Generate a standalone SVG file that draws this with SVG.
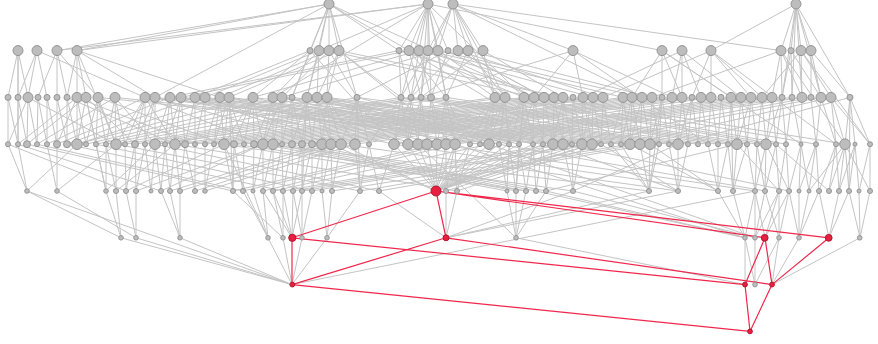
<svg xmlns="http://www.w3.org/2000/svg" width="878" height="344" viewBox="0 0 878 344">
<style>
.e{fill:none;stroke:#c4c4c4;stroke-width:1}
.re{fill:none;stroke:#f0274b;stroke-width:1.2}
.n circle{fill:#bdbdbd;stroke:#959595;stroke-width:1}
.h circle{fill:#e8203f;stroke:#b3152f;stroke-width:1}
</style>
<rect width="878" height="344" fill="#fff"/>
<g id="connectors">
<!-- level 0 to level 1 -->
<path class="e" d="M329 4 57 50.6M329 4 77 50.6M329 4 310 50.6M329 4 319 50.6M329 4 329 50.6M329 4 339 50.6M329 4 399 50.6M329 4 409 50.6M428 4 57 50.6M428 4 77 50.6M428 4 319 50.6M428 4 399 50.6M428 4 409 50.6M428 4 419 50.6M428 4 428 50.6M428 4 438 50.6M428 4 448 50.6M428 4 662 50.6M453 4 428 50.6M453 4 438 50.6M453 4 458 50.6M453 4 468 50.6M453 4 483 50.6M453 4 573 50.6M453 4 781 50.6M796 4 711 50.6M796 4 781 50.6M796 4 791 50.6M796 4 801 50.6M796 4 811 50.6"/>
<!-- level 0 to level 2 -->
<path class="e" d="M329 4 155 97.4M329 4 292 97.4M329 4 307 97.4M329 4 357 97.4M329 4 534 97.4M428 4 401 97.4M428 4 421 97.4M428 4 431 97.4M428 4 446 97.4M428 4 524 97.4M428 4 273 97.4M453 4 411 97.4M453 4 495 97.4M453 4 505 97.4M453 4 642 97.4M796 4 782 97.4M796 4 792 97.4M796 4 802 97.4M796 4 821 97.4M796 4 850 97.4"/>
<!-- level 1 to level 2 -->
<path class="e" d="M18 50.6 8 97.4M18 50.6 18 97.4M18 50.6 28 97.4M37 50.6 18 97.4M37 50.6 28 97.4M37 50.6 47 97.4M37 50.6 145 97.4M57 50.6 38 97.4M57 50.6 57 97.4M57 50.6 67 97.4M57 50.6 98 97.4M77 50.6 67 97.4M77 50.6 77 97.4M77 50.6 86 97.4M77 50.6 155 97.4M77 50.6 220 97.4M310 50.6 195 97.4M310 50.6 253 97.4M310 50.6 292 97.4M319 50.6 205 97.4M319 50.6 273 97.4M319 50.6 307 97.4M319 50.6 317 97.4M329 50.6 220 97.4M329 50.6 282 97.4M329 50.6 327 97.4M329 50.6 357 97.4M329 50.6 534 97.4M339 50.6 229 97.4M339 50.6 317 97.4M339 50.6 327 97.4M339 50.6 401 97.4M339 50.6 563 97.4M399 50.6 170 97.4M399 50.6 401 97.4M399 50.6 411 97.4M399 50.6 554 97.4M409 50.6 181 97.4M409 50.6 421 97.4M409 50.6 446 97.4M409 50.6 524 97.4M419 50.6 253 97.4M419 50.6 411 97.4M419 50.6 431 97.4M419 50.6 593 97.4M428 50.6 401 97.4M428 50.6 421 97.4M428 50.6 495 97.4M428 50.6 623 97.4M438 50.6 282 97.4M438 50.6 446 97.4M438 50.6 505 97.4M438 50.6 642 97.4M448 50.6 357 97.4M448 50.6 431 97.4M448 50.6 534 97.4M458 50.6 411 97.4M458 50.6 544 97.4M458 50.6 603 97.4M468 50.6 446 97.4M468 50.6 505 97.4M468 50.6 652 97.4M483 50.6 421 97.4M483 50.6 495 97.4M483 50.6 563 97.4M573 50.6 421 97.4M573 50.6 534 97.4M573 50.6 583 97.4M573 50.6 672 97.4M662 50.6 632 97.4M662 50.6 662 97.4M662 50.6 682 97.4M662 50.6 731 97.4M682 50.6 583 97.4M682 50.6 672 97.4M682 50.6 682 97.4M682 50.6 701 97.4M682 50.6 741 97.4M711 50.6 603 97.4M711 50.6 692 97.4M711 50.6 711 97.4M711 50.6 751 97.4M711 50.6 762 97.4M781 50.6 652 97.4M781 50.6 772 97.4M781 50.6 782 97.4M781 50.6 802 97.4M791 50.6 782 97.4M791 50.6 792 97.4M791 50.6 821 97.4M801 50.6 762 97.4M801 50.6 802 97.4M801 50.6 831 97.4M811 50.6 811 97.4M811 50.6 821 97.4M811 50.6 850 97.4"/>
<!-- level 1 to level 3 -->
<path class="e" d="M18 50.6 18 144.2M77 50.6 116 144.2M310 50.6 394 144.2M339 50.6 455 144.2M409 50.6 563 144.2M458 50.6 630 144.2M573 50.6 708 144.2M662 50.6 801 144.2M711 50.6 836 144.2M781 50.6 845 144.2M801 50.6 870 144.2"/>
<!-- level 2 to level 3 -->
<path class="e" d="M8 97.4 8 144.2M28 97.4 8 144.2M8 97.4 18 144.2M18 97.4 18 144.2M77 97.4 18 144.2M18 97.4 27 144.2M28 97.4 27 144.2M86 97.4 27 144.2M28 97.4 37 144.2M38 97.4 37 144.2M115 97.4 37 144.2M38 97.4 47 144.2M47 97.4 47 144.2M145 97.4 47 144.2M47 97.4 57 144.2M57 97.4 57 144.2M77 97.4 57 144.2M170 97.4 57 144.2M57 97.4 67 144.2M67 97.4 67 144.2M195 97.4 67 144.2M67 97.4 77 144.2M77 97.4 77 144.2M86 97.4 77 144.2M220 97.4 77 144.2M253 97.4 77 144.2M77 97.4 86 144.2M98 97.4 86 144.2M282 97.4 86 144.2M86 97.4 96 144.2M98 97.4 96 144.2M307 97.4 96 144.2M98 97.4 106 144.2M115 97.4 106 144.2M327 97.4 106 144.2M115 97.4 116 144.2M98 97.4 116 144.2M145 97.4 116 144.2M357 97.4 116 144.2M28 97.4 116 144.2M115 97.4 125 144.2M145 97.4 125 144.2M401 97.4 125 144.2M145 97.4 135 144.2M155 97.4 135 144.2M86 97.4 135 144.2M411 97.4 135 144.2M145 97.4 145 144.2M155 97.4 145 144.2M421 97.4 145 144.2M155 97.4 155 144.2M170 97.4 155 144.2M115 97.4 155 144.2M431 97.4 155 144.2M495 97.4 155 144.2M170 97.4 165 144.2M181 97.4 165 144.2M446 97.4 165 144.2M170 97.4 175 144.2M181 97.4 175 144.2M145 97.4 175 144.2M505 97.4 175 144.2M67 97.4 175 144.2M181 97.4 185 144.2M195 97.4 185 144.2M524 97.4 185 144.2M195 97.4 195 144.2M205 97.4 195 144.2M534 97.4 195 144.2M77 97.4 195 144.2M205 97.4 205 144.2M220 97.4 205 144.2M544 97.4 205 144.2M220 97.4 214 144.2M229 97.4 214 144.2M554 97.4 214 144.2M220 97.4 224 144.2M229 97.4 224 144.2M253 97.4 224 144.2M563 97.4 224 144.2M98 97.4 224 144.2M229 97.4 234 144.2M253 97.4 234 144.2M573 97.4 234 144.2M253 97.4 244 144.2M229 97.4 244 144.2M583 97.4 244 144.2M253 97.4 254 144.2M273 97.4 254 144.2M593 97.4 254 144.2M253 97.4 263 144.2M273 97.4 263 144.2M282 97.4 263 144.2M603 97.4 263 144.2M145 97.4 263 144.2M273 97.4 273 144.2M282 97.4 273 144.2M623 97.4 273 144.2M282 97.4 282 144.2M292 97.4 282 144.2M632 97.4 282 144.2M292 97.4 292 144.2M307 97.4 292 144.2M642 97.4 292 144.2M307 97.4 302 144.2M292 97.4 302 144.2M652 97.4 302 144.2M307 97.4 312 144.2M317 97.4 312 144.2M662 97.4 312 144.2M317 97.4 322 144.2M327 97.4 322 144.2M672 97.4 322 144.2M155 97.4 322 144.2M327 97.4 331 144.2M317 97.4 331 144.2M682 97.4 331 144.2M195 97.4 331 144.2M327 97.4 341 144.2M357 97.4 341 144.2M692 97.4 341 144.2M205 97.4 341 144.2M357 97.4 355 144.2M327 97.4 355 144.2M701 97.4 355 144.2M357 97.4 369 144.2M401 97.4 369 144.2M401 97.4 394 144.2M411 97.4 394 144.2M711 97.4 394 144.2M170 97.4 394 144.2M401 97.4 408 144.2M411 97.4 408 144.2M421 97.4 408 144.2M731 97.4 408 144.2M220 97.4 408 144.2M411 97.4 418 144.2M421 97.4 418 144.2M741 97.4 418 144.2M229 97.4 418 144.2M421 97.4 427 144.2M431 97.4 427 144.2M751 97.4 427 144.2M431 97.4 437 144.2M446 97.4 437 144.2M762 97.4 437 144.2M253 97.4 437 144.2M446 97.4 446 144.2M431 97.4 446 144.2M772 97.4 446 144.2M446 97.4 455 144.2M495 97.4 455 144.2M782 97.4 455 144.2M273 97.4 455 144.2M446 97.4 470 144.2M495 97.4 470 144.2M792 97.4 470 144.2M495 97.4 480 144.2M505 97.4 480 144.2M181 97.4 480 144.2M495 97.4 489 144.2M505 97.4 489 144.2M524 97.4 489 144.2M802 97.4 489 144.2M282 97.4 489 144.2M505 97.4 499 144.2M524 97.4 499 144.2M307 97.4 499 144.2M505 97.4 509 144.2M524 97.4 509 144.2M317 97.4 509 144.2M524 97.4 519 144.2M534 97.4 519 144.2M327 97.4 519 144.2M534 97.4 533 144.2M524 97.4 533 144.2M357 97.4 533 144.2M544 97.4 543 144.2M534 97.4 543 144.2M98 97.4 543 144.2M544 97.4 553 144.2M554 97.4 553 144.2M563 97.4 553 144.2M115 97.4 553 144.2M811 97.4 553 144.2M563 97.4 563 144.2M554 97.4 563 144.2M145 97.4 563 144.2M573 97.4 572 144.2M563 97.4 572 144.2M155 97.4 572 144.2M583 97.4 582 144.2M573 97.4 582 144.2M593 97.4 582 144.2M170 97.4 582 144.2M821 97.4 582 144.2M593 97.4 592 144.2M583 97.4 592 144.2M181 97.4 592 144.2M603 97.4 601 144.2M593 97.4 601 144.2M195 97.4 601 144.2M603 97.4 611 144.2M623 97.4 611 144.2M205 97.4 611 144.2M623 97.4 621 144.2M632 97.4 621 144.2M220 97.4 621 144.2M632 97.4 630 144.2M623 97.4 630 144.2M642 97.4 630 144.2M229 97.4 630 144.2M831 97.4 630 144.2M642 97.4 640 144.2M632 97.4 640 144.2M253 97.4 640 144.2M652 97.4 650 144.2M642 97.4 650 144.2M662 97.4 650 144.2M273 97.4 650 144.2M662 97.4 659 144.2M652 97.4 659 144.2M282 97.4 659 144.2M672 97.4 669 144.2M662 97.4 669 144.2M292 97.4 669 144.2M682 97.4 678 144.2M672 97.4 678 144.2M692 97.4 678 144.2M307 97.4 678 144.2M850 97.4 678 144.2M692 97.4 688 144.2M682 97.4 688 144.2M317 97.4 688 144.2M701 97.4 698 144.2M692 97.4 698 144.2M327 97.4 698 144.2M711 97.4 708 144.2M701 97.4 708 144.2M357 97.4 708 144.2M721 97.4 718 144.2M711 97.4 718 144.2M401 97.4 718 144.2M731 97.4 728 144.2M721 97.4 728 144.2M411 97.4 728 144.2M741 97.4 737 144.2M731 97.4 737 144.2M751 97.4 737 144.2M421 97.4 737 144.2M751 97.4 747 144.2M741 97.4 747 144.2M431 97.4 747 144.2M762 97.4 757 144.2M751 97.4 757 144.2M446 97.4 757 144.2M772 97.4 766 144.2M762 97.4 766 144.2M782 97.4 766 144.2M495 97.4 766 144.2M782 97.4 776 144.2M772 97.4 776 144.2M505 97.4 776 144.2M792 97.4 786 144.2M782 97.4 786 144.2M524 97.4 786 144.2M802 97.4 801 144.2M792 97.4 801 144.2M811 97.4 816 144.2M821 97.4 816 144.2M544 97.4 816 144.2M831 97.4 836 144.2M821 97.4 836 144.2M850 97.4 845 144.2M831 97.4 845 144.2M554 97.4 845 144.2M850 97.4 855 144.2M850 97.4 870 144.2M831 97.4 870 144.2"/>
<!-- level 2 to level 4 -->
<path class="e" d="M86 97.4 106 191M229 97.4 233 191M307 97.4 302 191M357 97.4 360 191M524 97.4 516 191M662 97.4 649 191M731 97.4 733 191M850 97.4 849 191"/>
<!-- level 3 to level 4 -->
<path class="e" d="M8 144.2 27 191M18 144.2 27 191M77 144.2 27 191M47 144.2 57 191M57 144.2 57 191M116 144.2 57 191M96 144.2 106 191M106 144.2 106 191M155 144.2 106 191M116 144.2 116 191M106 144.2 116 191M175 144.2 116 191M125 144.2 126 191M135 144.2 126 191M224 144.2 126 191M8 144.2 126 191M135 144.2 136 191M145 144.2 136 191M263 144.2 136 191M145 144.2 151 191M155 144.2 151 191M155 144.2 161 191M165 144.2 161 191M263 144.2 161 191M18 144.2 161 191M165 144.2 170 191M175 144.2 170 191M322 144.2 170 191M175 144.2 180 191M185 144.2 180 191M331 144.2 180 191M195 144.2 195 191M185 144.2 195 191M341 144.2 195 191M205 144.2 205 191M214 144.2 205 191M355 144.2 205 191M224 144.2 233 191M234 144.2 233 191M437 144.2 233 191M27 144.2 233 191M244 144.2 243 191M234 144.2 243 191M446 144.2 243 191M37 144.2 243 191M254 144.2 253 191M263 144.2 253 191M263 144.2 263 191M273 144.2 263 191M455 144.2 263 191M273 144.2 273 191M282 144.2 273 191M489 144.2 273 191M282 144.2 283 191M292 144.2 283 191M553 144.2 283 191M67 144.2 283 191M292 144.2 293 191M302 144.2 293 191M563 144.2 293 191M302 144.2 302 191M312 144.2 302 191M582 144.2 302 191M312 144.2 312 191M322 144.2 312 191M592 144.2 312 191M96 144.2 312 191M322 144.2 322 191M331 144.2 322 191M331 144.2 332 191M341 144.2 332 191M630 144.2 332 191M355 144.2 360 191M369 144.2 360 191M640 144.2 360 191M369 144.2 379 191M394 144.2 379 191M650 144.2 379 191M331 144.2 436 191M341 144.2 436 191M394 144.2 436 191M408 144.2 436 191M418 144.2 436 191M427 144.2 436 191M437 144.2 436 191M446 144.2 436 191M455 144.2 436 191M470 144.2 436 191M480 144.2 436 191M489 144.2 436 191M499 144.2 436 191M509 144.2 436 191M519 144.2 436 191M533 144.2 436 191M543 144.2 436 191M553 144.2 436 191M563 144.2 436 191M582 144.2 436 191M592 144.2 436 191M446 144.2 446 191M455 144.2 446 191M592 144.2 446 191M455 144.2 457 191M470 144.2 457 191M601 144.2 457 191M499 144.2 507 191M509 144.2 507 191M263 144.2 507 191M509 144.2 516 191M519 144.2 516 191M273 144.2 516 191M519 144.2 526 191M533 144.2 526 191M282 144.2 526 191M533 144.2 536 191M543 144.2 536 191M292 144.2 536 191M543 144.2 546 191M553 144.2 546 191M302 144.2 546 191M572 144.2 573 191M563 144.2 573 191M582 144.2 573 191M234 144.2 573 191M611 144.2 649 191M621 144.2 649 191M640 144.2 649 191M650 144.2 649 191M659 144.2 649 191M553 144.2 678 191M601 144.2 678 191M669 144.2 678 191M678 144.2 678 191M688 144.2 678 191M630 144.2 718 191M650 144.2 718 191M708 144.2 718 191M718 144.2 718 191M728 144.2 718 191M728 144.2 733 191M737 144.2 733 191M747 144.2 733 191M747 144.2 755 191M757 144.2 755 191M766 144.2 755 191M757 144.2 765 191M766 144.2 765 191M776 144.2 765 191M776 144.2 779 191M786 144.2 779 191M737 144.2 779 191M786 144.2 789 191M801 144.2 789 191M766 144.2 789 191M801 144.2 799 191M816 144.2 799 191M801 144.2 809 191M816 144.2 809 191M845 144.2 809 191M816 144.2 819 191M836 144.2 819 191M836 144.2 829 191M845 144.2 829 191M776 144.2 829 191M836 144.2 839 191M845 144.2 839 191M855 144.2 839 191M845 144.2 849 191M855 144.2 849 191M855 144.2 859 191M870 144.2 859 191M870 144.2 870 191M845 144.2 870 191M175 144.2 457 191M224 144.2 526 191M263 144.2 649 191M341 144.2 678 191M394 144.2 718 191M437 144.2 755 191M499 144.2 765 191M563 144.2 789 191M155 144.2 379 191M116 144.2 360 191M678 144.2 573 191M737 144.2 546 191"/>
<!-- level 3 to level 5 -->
<path class="e" d="M455 144.2 745 237.8M489 144.2 755 237.8M418 144.2 516 237.8M224 144.2 268 237.8"/>
<!-- level 4 to level 5 -->
<path class="e" d="M106 191 121 237.8M116 191 121 237.8M27 191 121 237.8M126 191 136 237.8M136 191 136 237.8M57 191 136 237.8M170 191 180 237.8M180 191 180 237.8M161 191 180 237.8M253 191 268 237.8M263 191 268 237.8M243 191 268 237.8M273 191 283 237.8M283 191 283 237.8M233 191 283 237.8M263 191 292 237.8M273 191 292 237.8M283 191 292 237.8M293 191 292 237.8M302 191 292 237.8M302 191 302 237.8M312 191 302 237.8M293 191 302 237.8M322 191 327 237.8M332 191 327 237.8M360 191 327 237.8M446 191 446 237.8M457 191 446 237.8M379 191 446 237.8M573 191 446 237.8M649 191 446 237.8M678 191 446 237.8M507 191 516 237.8M516 191 516 237.8M526 191 516 237.8M546 191 516 237.8M733 191 745 237.8M755 191 745 237.8M718 191 745 237.8M536 191 745 237.8M546 191 745 237.8M755 191 755 237.8M765 191 755 237.8M779 191 755 237.8M573 191 755 237.8M755 191 765 237.8M779 191 765 237.8M789 191 765 237.8M779 191 779 237.8M789 191 779 237.8M765 191 779 237.8M799 191 799 237.8M809 191 799 237.8M819 191 799 237.8M789 191 799 237.8M819 191 829 237.8M839 191 829 237.8M849 191 829 237.8M849 191 860 237.8M859 191 860 237.8M870 191 860 237.8"/>
<!-- level 4/5 to level 6 -->
<path class="e" d="M121 237.8 292 284.6M136 237.8 292 284.6M180 237.8 292 284.6M268 237.8 292 284.6M283 237.8 292 284.6M302 237.8 292 284.6M327 237.8 292 284.6M27 191 292 284.6M755 191 292 284.6M745 237.8 745 284.6M516 237.8 745 284.6M745 237.8 755 284.6M755 237.8 755 284.6M779 237.8 755 284.6M779 237.8 772 284.6M799 237.8 772 284.6M860 237.8 772 284.6"/>
<!-- highlighted path -->
<path class="re" d="M436 191 292 237.8M436 191 446 237.8M436 191 765 237.8M436 191 829 237.8M292 237.8 292 284.6M292 237.8 745 284.6M292 284.6 446 237.8M292 284.6 750 331.4M446 237.8 772 284.6M765 237.8 745 284.6M765 237.8 772 284.6M829 237.8 772 284.6M745 284.6 750 331.4M772 284.6 750 331.4"/>
</g>
<g id="nodes">
<g id="n0-329" class="n"><circle cx="329" cy="4" r="5"/></g>
<g id="n0-428" class="n"><circle cx="428" cy="4" r="5"/></g>
<g id="n0-453" class="n"><circle cx="453" cy="4" r="5"/></g>
<g id="n0-796" class="n"><circle cx="796" cy="4" r="5"/></g>
<g id="n1-18" class="n"><circle cx="18" cy="50.6" r="5"/></g>
<g id="n1-37" class="n"><circle cx="37" cy="50.6" r="5"/></g>
<g id="n1-57" class="n"><circle cx="57" cy="50.6" r="5"/></g>
<g id="n1-77" class="n"><circle cx="77" cy="50.6" r="5"/></g>
<g id="n1-310" class="n"><circle cx="310" cy="50.6" r="3"/></g>
<g id="n1-319" class="n"><circle cx="319" cy="50.6" r="5"/></g>
<g id="n1-329" class="n"><circle cx="329" cy="50.6" r="5"/></g>
<g id="n1-339" class="n"><circle cx="339" cy="50.6" r="5"/></g>
<g id="n1-399" class="n"><circle cx="399" cy="50.6" r="3"/></g>
<g id="n1-409" class="n"><circle cx="409" cy="50.6" r="5"/></g>
<g id="n1-419" class="n"><circle cx="419" cy="50.6" r="5"/></g>
<g id="n1-428" class="n"><circle cx="428" cy="50.6" r="5"/></g>
<g id="n1-438" class="n"><circle cx="438" cy="50.6" r="5"/></g>
<g id="n1-448" class="n"><circle cx="448" cy="50.6" r="3"/></g>
<g id="n1-458" class="n"><circle cx="458" cy="50.6" r="5"/></g>
<g id="n1-468" class="n"><circle cx="468" cy="50.6" r="5"/></g>
<g id="n1-483" class="n"><circle cx="483" cy="50.6" r="5"/></g>
<g id="n1-573" class="n"><circle cx="573" cy="50.6" r="5"/></g>
<g id="n1-662" class="n"><circle cx="662" cy="50.6" r="5"/></g>
<g id="n1-682" class="n"><circle cx="682" cy="50.6" r="5"/></g>
<g id="n1-711" class="n"><circle cx="711" cy="50.6" r="5"/></g>
<g id="n1-781" class="n"><circle cx="781" cy="50.6" r="5"/></g>
<g id="n1-791" class="n"><circle cx="791" cy="50.6" r="3"/></g>
<g id="n1-801" class="n"><circle cx="801" cy="50.6" r="5"/></g>
<g id="n1-811" class="n"><circle cx="811" cy="50.6" r="5"/></g>
<g id="n2-8" class="n"><circle cx="8" cy="97.4" r="3"/></g>
<g id="n2-18" class="n"><circle cx="18" cy="97.4" r="3"/></g>
<g id="n2-28" class="n"><circle cx="28" cy="97.4" r="5"/></g>
<g id="n2-38" class="n"><circle cx="38" cy="97.4" r="3"/></g>
<g id="n2-47" class="n"><circle cx="47" cy="97.4" r="3"/></g>
<g id="n2-57" class="n"><circle cx="57" cy="97.4" r="3"/></g>
<g id="n2-67" class="n"><circle cx="67" cy="97.4" r="3"/></g>
<g id="n2-77" class="n"><circle cx="77" cy="97.4" r="5"/></g>
<g id="n2-86" class="n"><circle cx="86" cy="97.4" r="5"/></g>
<g id="n2-98" class="n"><circle cx="98" cy="97.4" r="5"/></g>
<g id="n2-115" class="n"><circle cx="115" cy="97.4" r="5"/></g>
<g id="n2-145" class="n"><circle cx="145" cy="97.4" r="5"/></g>
<g id="n2-155" class="n"><circle cx="155" cy="97.4" r="5"/></g>
<g id="n2-170" class="n"><circle cx="170" cy="97.4" r="5"/></g>
<g id="n2-181" class="n"><circle cx="181" cy="97.4" r="5"/></g>
<g id="n2-195" class="n"><circle cx="195" cy="97.4" r="5"/></g>
<g id="n2-205" class="n"><circle cx="205" cy="97.4" r="5"/></g>
<g id="n2-220" class="n"><circle cx="220" cy="97.4" r="5"/></g>
<g id="n2-229" class="n"><circle cx="229" cy="97.4" r="5"/></g>
<g id="n2-253" class="n"><circle cx="253" cy="97.4" r="5"/></g>
<g id="n2-273" class="n"><circle cx="273" cy="97.4" r="5"/></g>
<g id="n2-282" class="n"><circle cx="282" cy="97.4" r="5"/></g>
<g id="n2-292" class="n"><circle cx="292" cy="97.4" r="3"/></g>
<g id="n2-307" class="n"><circle cx="307" cy="97.4" r="5"/></g>
<g id="n2-317" class="n"><circle cx="317" cy="97.4" r="5"/></g>
<g id="n2-327" class="n"><circle cx="327" cy="97.4" r="5"/></g>
<g id="n2-357" class="n"><circle cx="357" cy="97.4" r="3"/></g>
<g id="n2-401" class="n"><circle cx="401" cy="97.4" r="3"/></g>
<g id="n2-411" class="n"><circle cx="411" cy="97.4" r="3"/></g>
<g id="n2-421" class="n"><circle cx="421" cy="97.4" r="3"/></g>
<g id="n2-431" class="n"><circle cx="431" cy="97.4" r="3.5"/></g>
<g id="n2-446" class="n"><circle cx="446" cy="97.4" r="3"/></g>
<g id="n2-495" class="n"><circle cx="495" cy="97.4" r="5"/></g>
<g id="n2-505" class="n"><circle cx="505" cy="97.4" r="5"/></g>
<g id="n2-524" class="n"><circle cx="524" cy="97.4" r="5"/></g>
<g id="n2-534" class="n"><circle cx="534" cy="97.4" r="5"/></g>
<g id="n2-544" class="n"><circle cx="544" cy="97.4" r="5"/></g>
<g id="n2-554" class="n"><circle cx="554" cy="97.4" r="5"/></g>
<g id="n2-563" class="n"><circle cx="563" cy="97.4" r="5"/></g>
<g id="n2-573" class="n"><circle cx="573" cy="97.4" r="3"/></g>
<g id="n2-583" class="n"><circle cx="583" cy="97.4" r="5"/></g>
<g id="n2-593" class="n"><circle cx="593" cy="97.4" r="5"/></g>
<g id="n2-603" class="n"><circle cx="603" cy="97.4" r="5"/></g>
<g id="n2-623" class="n"><circle cx="623" cy="97.4" r="5"/></g>
<g id="n2-632" class="n"><circle cx="632" cy="97.4" r="5"/></g>
<g id="n2-642" class="n"><circle cx="642" cy="97.4" r="5"/></g>
<g id="n2-652" class="n"><circle cx="652" cy="97.4" r="5"/></g>
<g id="n2-662" class="n"><circle cx="662" cy="97.4" r="3"/></g>
<g id="n2-672" class="n"><circle cx="672" cy="97.4" r="5"/></g>
<g id="n2-682" class="n"><circle cx="682" cy="97.4" r="5"/></g>
<g id="n2-692" class="n"><circle cx="692" cy="97.4" r="3"/></g>
<g id="n2-701" class="n"><circle cx="701" cy="97.4" r="5"/></g>
<g id="n2-711" class="n"><circle cx="711" cy="97.4" r="5"/></g>
<g id="n2-721" class="n"><circle cx="721" cy="97.4" r="3"/></g>
<g id="n2-731" class="n"><circle cx="731" cy="97.4" r="5"/></g>
<g id="n2-741" class="n"><circle cx="741" cy="97.4" r="5"/></g>
<g id="n2-751" class="n"><circle cx="751" cy="97.4" r="5"/></g>
<g id="n2-762" class="n"><circle cx="762" cy="97.4" r="5"/></g>
<g id="n2-772" class="n"><circle cx="772" cy="97.4" r="5"/></g>
<g id="n2-782" class="n"><circle cx="782" cy="97.4" r="3"/></g>
<g id="n2-792" class="n"><circle cx="792" cy="97.4" r="3"/></g>
<g id="n2-802" class="n"><circle cx="802" cy="97.4" r="5"/></g>
<g id="n2-811" class="n"><circle cx="811" cy="97.4" r="3"/></g>
<g id="n2-821" class="n"><circle cx="821" cy="97.4" r="5"/></g>
<g id="n2-831" class="n"><circle cx="831" cy="97.4" r="5"/></g>
<g id="n2-850" class="n"><circle cx="850" cy="97.4" r="3"/></g>
<g id="n3-8" class="n"><circle cx="8" cy="144.2" r="2.5"/></g>
<g id="n3-18" class="n"><circle cx="18" cy="144.2" r="2.5"/></g>
<g id="n3-27" class="n"><circle cx="27" cy="144.2" r="3.5"/></g>
<g id="n3-37" class="n"><circle cx="37" cy="144.2" r="2.5"/></g>
<g id="n3-47" class="n"><circle cx="47" cy="144.2" r="2.5"/></g>
<g id="n3-57" class="n"><circle cx="57" cy="144.2" r="3.5"/></g>
<g id="n3-67" class="n"><circle cx="67" cy="144.2" r="3.5"/></g>
<g id="n3-77" class="n"><circle cx="77" cy="144.2" r="5.3"/></g>
<g id="n3-86" class="n"><circle cx="86" cy="144.2" r="2.5"/></g>
<g id="n3-96" class="n"><circle cx="96" cy="144.2" r="2.5"/></g>
<g id="n3-106" class="n"><circle cx="106" cy="144.2" r="2.5"/></g>
<g id="n3-116" class="n"><circle cx="116" cy="144.2" r="5.3"/></g>
<g id="n3-125" class="n"><circle cx="125" cy="144.2" r="2.5"/></g>
<g id="n3-135" class="n"><circle cx="135" cy="144.2" r="3.5"/></g>
<g id="n3-145" class="n"><circle cx="145" cy="144.2" r="2.5"/></g>
<g id="n3-155" class="n"><circle cx="155" cy="144.2" r="5.3"/></g>
<g id="n3-165" class="n"><circle cx="165" cy="144.2" r="2.5"/></g>
<g id="n3-175" class="n"><circle cx="175" cy="144.2" r="5.3"/></g>
<g id="n3-185" class="n"><circle cx="185" cy="144.2" r="3.5"/></g>
<g id="n3-195" class="n"><circle cx="195" cy="144.2" r="2.5"/></g>
<g id="n3-205" class="n"><circle cx="205" cy="144.2" r="2.5"/></g>
<g id="n3-214" class="n"><circle cx="214" cy="144.2" r="2.5"/></g>
<g id="n3-224" class="n"><circle cx="224" cy="144.2" r="5.3"/></g>
<g id="n3-234" class="n"><circle cx="234" cy="144.2" r="3.5"/></g>
<g id="n3-244" class="n"><circle cx="244" cy="144.2" r="2.5"/></g>
<g id="n3-254" class="n"><circle cx="254" cy="144.2" r="3.5"/></g>
<g id="n3-263" class="n"><circle cx="263" cy="144.2" r="5.3"/></g>
<g id="n3-273" class="n"><circle cx="273" cy="144.2" r="5.3"/></g>
<g id="n3-282" class="n"><circle cx="282" cy="144.2" r="2.5"/></g>
<g id="n3-292" class="n"><circle cx="292" cy="144.2" r="3.5"/></g>
<g id="n3-302" class="n"><circle cx="302" cy="144.2" r="3.5"/></g>
<g id="n3-312" class="n"><circle cx="312" cy="144.2" r="3.5"/></g>
<g id="n3-322" class="n"><circle cx="322" cy="144.2" r="5.3"/></g>
<g id="n3-331" class="n"><circle cx="331" cy="144.2" r="5.3"/></g>
<g id="n3-341" class="n"><circle cx="341" cy="144.2" r="5.3"/></g>
<g id="n3-355" class="n"><circle cx="355" cy="144.2" r="5.3"/></g>
<g id="n3-369" class="n"><circle cx="369" cy="144.2" r="2.5"/></g>
<g id="n3-394" class="n"><circle cx="394" cy="144.2" r="5.3"/></g>
<g id="n3-408" class="n"><circle cx="408" cy="144.2" r="5.3"/></g>
<g id="n3-418" class="n"><circle cx="418" cy="144.2" r="5.3"/></g>
<g id="n3-427" class="n"><circle cx="427" cy="144.2" r="5.3"/></g>
<g id="n3-437" class="n"><circle cx="437" cy="144.2" r="5.3"/></g>
<g id="n3-446" class="n"><circle cx="446" cy="144.2" r="5.3"/></g>
<g id="n3-455" class="n"><circle cx="455" cy="144.2" r="5.3"/></g>
<g id="n3-470" class="n"><circle cx="470" cy="144.2" r="2.5"/></g>
<g id="n3-480" class="n"><circle cx="480" cy="144.2" r="2.5"/></g>
<g id="n3-489" class="n"><circle cx="489" cy="144.2" r="5.3"/></g>
<g id="n3-499" class="n"><circle cx="499" cy="144.2" r="2.5"/></g>
<g id="n3-509" class="n"><circle cx="509" cy="144.2" r="2.5"/></g>
<g id="n3-519" class="n"><circle cx="519" cy="144.2" r="2.5"/></g>
<g id="n3-533" class="n"><circle cx="533" cy="144.2" r="2.5"/></g>
<g id="n3-543" class="n"><circle cx="543" cy="144.2" r="2.5"/></g>
<g id="n3-553" class="n"><circle cx="553" cy="144.2" r="5.3"/></g>
<g id="n3-563" class="n"><circle cx="563" cy="144.2" r="5.3"/></g>
<g id="n3-572" class="n"><circle cx="572" cy="144.2" r="2.5"/></g>
<g id="n3-582" class="n"><circle cx="582" cy="144.2" r="5.3"/></g>
<g id="n3-592" class="n"><circle cx="592" cy="144.2" r="5.3"/></g>
<g id="n3-601" class="n"><circle cx="601" cy="144.2" r="2.5"/></g>
<g id="n3-611" class="n"><circle cx="611" cy="144.2" r="2.5"/></g>
<g id="n3-621" class="n"><circle cx="621" cy="144.2" r="2.5"/></g>
<g id="n3-630" class="n"><circle cx="630" cy="144.2" r="5.3"/></g>
<g id="n3-640" class="n"><circle cx="640" cy="144.2" r="5.3"/></g>
<g id="n3-650" class="n"><circle cx="650" cy="144.2" r="5.3"/></g>
<g id="n3-659" class="n"><circle cx="659" cy="144.2" r="2.5"/></g>
<g id="n3-669" class="n"><circle cx="669" cy="144.2" r="2.5"/></g>
<g id="n3-678" class="n"><circle cx="678" cy="144.2" r="5.3"/></g>
<g id="n3-688" class="n"><circle cx="688" cy="144.2" r="2.5"/></g>
<g id="n3-698" class="n"><circle cx="698" cy="144.2" r="2.5"/></g>
<g id="n3-708" class="n"><circle cx="708" cy="144.2" r="2.5"/></g>
<g id="n3-718" class="n"><circle cx="718" cy="144.2" r="2.5"/></g>
<g id="n3-728" class="n"><circle cx="728" cy="144.2" r="2.5"/></g>
<g id="n3-737" class="n"><circle cx="737" cy="144.2" r="5.3"/></g>
<g id="n3-747" class="n"><circle cx="747" cy="144.2" r="2.5"/></g>
<g id="n3-757" class="n"><circle cx="757" cy="144.2" r="2.5"/></g>
<g id="n3-766" class="n"><circle cx="766" cy="144.2" r="5.3"/></g>
<g id="n3-776" class="n"><circle cx="776" cy="144.2" r="2.5"/></g>
<g id="n3-786" class="n"><circle cx="786" cy="144.2" r="2.5"/></g>
<g id="n3-801" class="n"><circle cx="801" cy="144.2" r="2"/></g>
<g id="n3-816" class="n"><circle cx="816" cy="144.2" r="2.5"/></g>
<g id="n3-836" class="n"><circle cx="836" cy="144.2" r="2.5"/></g>
<g id="n3-845" class="n"><circle cx="845" cy="144.2" r="5.3"/></g>
<g id="n3-855" class="n"><circle cx="855" cy="144.2" r="2"/></g>
<g id="n3-870" class="n"><circle cx="870" cy="144.2" r="2.5"/></g>
<g id="n4-27" class="n"><circle cx="27" cy="191" r="2.3"/></g>
<g id="n4-57" class="n"><circle cx="57" cy="191" r="2.3"/></g>
<g id="n4-106" class="n"><circle cx="106" cy="191" r="2.3"/></g>
<g id="n4-116" class="n"><circle cx="116" cy="191" r="2.5"/></g>
<g id="n4-126" class="n"><circle cx="126" cy="191" r="2.5"/></g>
<g id="n4-136" class="n"><circle cx="136" cy="191" r="2.5"/></g>
<g id="n4-151" class="n"><circle cx="151" cy="191" r="2"/></g>
<g id="n4-161" class="n"><circle cx="161" cy="191" r="2.5"/></g>
<g id="n4-170" class="n"><circle cx="170" cy="191" r="2.5"/></g>
<g id="n4-180" class="n"><circle cx="180" cy="191" r="2.5"/></g>
<g id="n4-195" class="n"><circle cx="195" cy="191" r="2.5"/></g>
<g id="n4-205" class="n"><circle cx="205" cy="191" r="2.3"/></g>
<g id="n4-233" class="n"><circle cx="233" cy="191" r="2.5"/></g>
<g id="n4-243" class="n"><circle cx="243" cy="191" r="2.5"/></g>
<g id="n4-253" class="n"><circle cx="253" cy="191" r="2"/></g>
<g id="n4-263" class="n"><circle cx="263" cy="191" r="2.5"/></g>
<g id="n4-273" class="n"><circle cx="273" cy="191" r="2.5"/></g>
<g id="n4-283" class="n"><circle cx="283" cy="191" r="2.5"/></g>
<g id="n4-293" class="n"><circle cx="293" cy="191" r="2.5"/></g>
<g id="n4-302" class="n"><circle cx="302" cy="191" r="2.5"/></g>
<g id="n4-312" class="n"><circle cx="312" cy="191" r="2.5"/></g>
<g id="n4-322" class="n"><circle cx="322" cy="191" r="2"/></g>
<g id="n4-332" class="n"><circle cx="332" cy="191" r="2.5"/></g>
<g id="n4-360" class="n"><circle cx="360" cy="191" r="2.5"/></g>
<g id="n4-379" class="n"><circle cx="379" cy="191" r="2.5"/></g>
<g id="n4-436" class="h"><circle cx="436" cy="191" r="5"/></g>
<g id="n4-446" class="n"><circle cx="446" cy="191" r="2.5"/></g>
<g id="n4-457" class="n"><circle cx="457" cy="191" r="2.5"/></g>
<g id="n4-507" class="n"><circle cx="507" cy="191" r="2"/></g>
<g id="n4-516" class="n"><circle cx="516" cy="191" r="2.5"/></g>
<g id="n4-526" class="n"><circle cx="526" cy="191" r="2.5"/></g>
<g id="n4-536" class="n"><circle cx="536" cy="191" r="2.5"/></g>
<g id="n4-546" class="n"><circle cx="546" cy="191" r="2.5"/></g>
<g id="n4-573" class="n"><circle cx="573" cy="191" r="2.5"/></g>
<g id="n4-649" class="n"><circle cx="649" cy="191" r="2.5"/></g>
<g id="n4-678" class="n"><circle cx="678" cy="191" r="2.5"/></g>
<g id="n4-718" class="n"><circle cx="718" cy="191" r="2.5"/></g>
<g id="n4-733" class="n"><circle cx="733" cy="191" r="2.5"/></g>
<g id="n4-755" class="n"><circle cx="755" cy="191" r="2.5"/></g>
<g id="n4-765" class="n"><circle cx="765" cy="191" r="2.5"/></g>
<g id="n4-779" class="n"><circle cx="779" cy="191" r="2.5"/></g>
<g id="n4-789" class="n"><circle cx="789" cy="191" r="2.5"/></g>
<g id="n4-799" class="n"><circle cx="799" cy="191" r="2"/></g>
<g id="n4-809" class="n"><circle cx="809" cy="191" r="2"/></g>
<g id="n4-819" class="n"><circle cx="819" cy="191" r="2.5"/></g>
<g id="n4-829" class="n"><circle cx="829" cy="191" r="2.5"/></g>
<g id="n4-839" class="n"><circle cx="839" cy="191" r="2.5"/></g>
<g id="n4-849" class="n"><circle cx="849" cy="191" r="2.5"/></g>
<g id="n4-859" class="n"><circle cx="859" cy="191" r="2"/></g>
<g id="n4-870" class="n"><circle cx="870" cy="191" r="2.5"/></g>
<g id="n5-121" class="n"><circle cx="121" cy="237.8" r="2.3"/></g>
<g id="n5-136" class="n"><circle cx="136" cy="237.8" r="2.3"/></g>
<g id="n5-180" class="n"><circle cx="180" cy="237.8" r="2.3"/></g>
<g id="n5-268" class="n"><circle cx="268" cy="237.8" r="2.3"/></g>
<g id="n5-283" class="n"><circle cx="283" cy="237.8" r="2.3"/></g>
<g id="n5-292" class="h"><circle cx="292.3" cy="237.8" r="3.6"/></g>
<g id="n5-302" class="n"><circle cx="302" cy="237.8" r="2.3"/></g>
<g id="n5-327" class="n"><circle cx="327" cy="237.8" r="2.3"/></g>
<g id="n5-446" class="h"><circle cx="446" cy="237.8" r="3"/></g>
<g id="n5-516" class="n"><circle cx="516" cy="237.8" r="2.3"/></g>
<g id="n5-745" class="n"><circle cx="745" cy="237.8" r="2.3"/></g>
<g id="n5-755" class="n"><circle cx="755" cy="237.8" r="2.3"/></g>
<g id="n5-765" class="h"><circle cx="764.7" cy="237.8" r="3.4"/></g>
<g id="n5-779" class="n"><circle cx="779" cy="237.8" r="2.3"/></g>
<g id="n5-799" class="n"><circle cx="799" cy="237.8" r="2.3"/></g>
<g id="n5-829" class="h"><circle cx="828.7" cy="237.8" r="3.4"/></g>
<g id="n5-860" class="n"><circle cx="859.7" cy="237.8" r="2.3"/></g>
<g id="n6-292" class="h"><circle cx="292.3" cy="284.6" r="2.4"/></g>
<g id="n6-745" class="h"><circle cx="745" cy="284.6" r="2.4"/></g>
<g id="n6-755" class="n"><circle cx="755" cy="284.6" r="2.3"/></g>
<g id="n6-772" class="h"><circle cx="772" cy="284.6" r="2.4"/></g>
<g id="n7-750" class="h"><circle cx="750" cy="331.4" r="2.4"/></g>
</g>
</svg>
